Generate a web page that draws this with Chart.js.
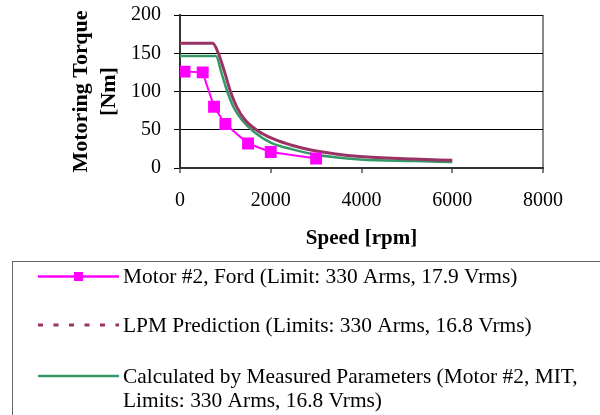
<!DOCTYPE html>
<html>
<head>
<meta charset="utf-8">
<script src="https://cdn.jsdelivr.net/npm/chart.js@4"></script>
<style>
  html, body { margin: 0; padding: 0; background: #fff; }
  #wrap { width: 600px; height: 415px; position: relative; }
</style>
</head>
<body>
<div id="wrap"><canvas id="torque-chart" width="600" height="415"></canvas></div>
<script>
// speeds in rpm, torque in Nm
const fordSpeed = [100, 500, 750, 1000, 1500, 2000, 3000];
const fordTorque = [126, 125, 80, 57.5, 32, 21, 12.5];

const lpmSpeed = [0, 720, 845, 990, 1100, 1250, 1430, 1730, 2020, 2500, 2940, 3970, 5150, 6000];
const lpmTorque = [163, 163, 150, 124, 102, 80, 63, 48, 39, 29, 23, 15, 11.7, 10];

const calcSpeed = [0, 790, 920, 1030, 1176, 1360, 1654, 2021, 2500, 2940, 3970, 5150, 6000];
const calcTorque = [146.5, 146.5, 123, 102, 80, 63, 46, 32.5, 24, 18, 11, 9, 8];

const xTicks = [0, 2000, 4000, 6000, 8000];
const yTicks = [0, 50, 100, 150, 200];

const labels = [
  'Motor #2, Ford (Limit: 330 Arms, 17.9 Vrms)',
  'LPM Prediction (Limits: 330 Arms, 16.8 Vrms)',
  'Calculated by Measured Parameters (Motor #2, MIT, Limits: 330 Arms, 16.8 Vrms)',
];

const serif = "'Liberation Serif', 'Times New Roman', serif";

function toPoints(xs, ys) {
  return xs.map((x, i) => ({ x: x, y: ys[i] }));
}

// legend drawn by hand, in a box under the plot
const boxLegend = {
  id: 'boxLegend',
  afterDraw(chart) {
    const ctx = chart.ctx;
    ctx.save();
    ctx.strokeStyle = '#666';
    ctx.lineWidth = 1;
    ctx.strokeRect(12.5, 261.5, 600, 200);

    const rows = [276.5, 325, 376];
    const dashes = [[], [5, 10.5], []];
    ctx.font = '21.4px ' + serif;
    ctx.textBaseline = 'middle';
    chart.data.datasets.forEach((ds, i) => {
      const y = rows[i];
      ctx.strokeStyle = ds.borderColor;
      ctx.lineWidth = i === 1 ? 3 : 2.5;
      ctx.setLineDash(dashes[i]);
      ctx.beginPath();
      ctx.moveTo(38, y);
      ctx.lineTo(119, y);
      ctx.stroke();
      ctx.setLineDash([]);
      if (ds.pointRadius > 0) {
        ctx.fillStyle = ds.pointBackgroundColor;
        ctx.fillRect(74, y - 4.5, 9, 9);
      }
      // wrap the text
      const words = ds.label.split(' ');
      const lines = [];
      let cur = '';
      words.forEach(w => {
        const test = cur ? cur + ' ' + w : w;
        if (ctx.measureText(test).width > 470 && cur) {
          lines.push(cur);
          cur = w;
        } else {
          cur = test;
        }
      });
      lines.push(cur);
      ctx.fillStyle = '#000';
      lines.forEach((ln, k) => {
        ctx.fillText(ln, 123, y + 1 + k * 24);
      });
    });
    ctx.restore();
  },
};

const chartEl = document.getElementById('torque-chart');

new Chart(chartEl, {
  type: 'scatter',
  data: {
    datasets: [
      {
        label: labels[0],
        data: toPoints(fordSpeed, fordTorque),
        showLine: true,
        borderColor: '#ff00ff',
        backgroundColor: '#ff00ff',
        pointBackgroundColor: '#ff00ff',
        pointBorderColor: '#ff00ff',
        pointStyle: 'rect',
        pointRadius: 7,
        borderWidth: 2,
        tension: 0,
      },
      {
        label: labels[1],
        data: toPoints(lpmSpeed, lpmTorque),
        showLine: true,
        borderColor: '#993366',
        backgroundColor: '#993366',
        pointRadius: 0,
        borderWidth: 3,
        cubicInterpolationMode: 'monotone',
      },
      {
        label: labels[2],
        data: toPoints(calcSpeed, calcTorque),
        showLine: true,
        borderColor: '#339966',
        backgroundColor: '#339966',
        pointRadius: 0,
        borderWidth: 2.5,
        cubicInterpolationMode: 'monotone',
      },
    ],
  },
  options: {
    responsive: false,
    animation: false,
    layout: {
      padding: { left: 0, top: 15, right: 57, bottom: 157 },
    },
    plugins: {
      legend: { display: false },
      tooltip: { enabled: false },
    },
    scales: {
      x: {
        type: 'linear',
        min: 0,
        max: 8000,
        afterFit: scale => { scale.height = 90; },
        afterBuildTicks: scale => { scale.ticks = xTicks.map(v => ({ value: v })); },
        ticks: {
          color: '#000',
          font: { family: serif, size: 20 },
          padding: 16,
          maxRotation: 0,
          callback: v => String(v),
        },
        grid: {
          drawOnChartArea: true,
          color: ctx => (ctx.tick && ctx.tick.value === 8000 ? '#888' : 'transparent'),
          lineWidth: 2,
          tickColor: '#000',
          tickLength: 5,
          tickWidth: 1,
        },
        border: { color: '#333', width: 2 },
        title: {
          display: true,
          text: 'Speed [rpm]',
          color: '#000',
          font: { family: serif, size: 21, weight: 'bold' },
          padding: { top: 0, bottom: 7 },
        },
      },
      y: {
        min: 0,
        max: 200,
        afterFit: scale => { scale.width = 180; },
        afterBuildTicks: scale => { scale.ticks = yTicks.map(v => ({ value: v })); },
        ticks: {
          color: '#000',
          font: { family: serif, size: 20, lineHeight: 0.2 },
          padding: 13,
          callback: v => String(v),
        },
        grid: {
          color: '#000',
          lineWidth: 1,
          tickColor: '#000',
          tickLength: 6,
        },
        border: { color: '#333', width: 2 },
        title: {
          display: true,
          text: ['Motoring Torque', '[Nm]'],
          color: '#000',
          font: { family: serif, size: 22, weight: 'bold', lineHeight: '28px' },
          padding: { top: 67.7, bottom: 0 },
        },
      },
    },
  },
  plugins: [boxLegend],
});
</script>
</body>
</html>
